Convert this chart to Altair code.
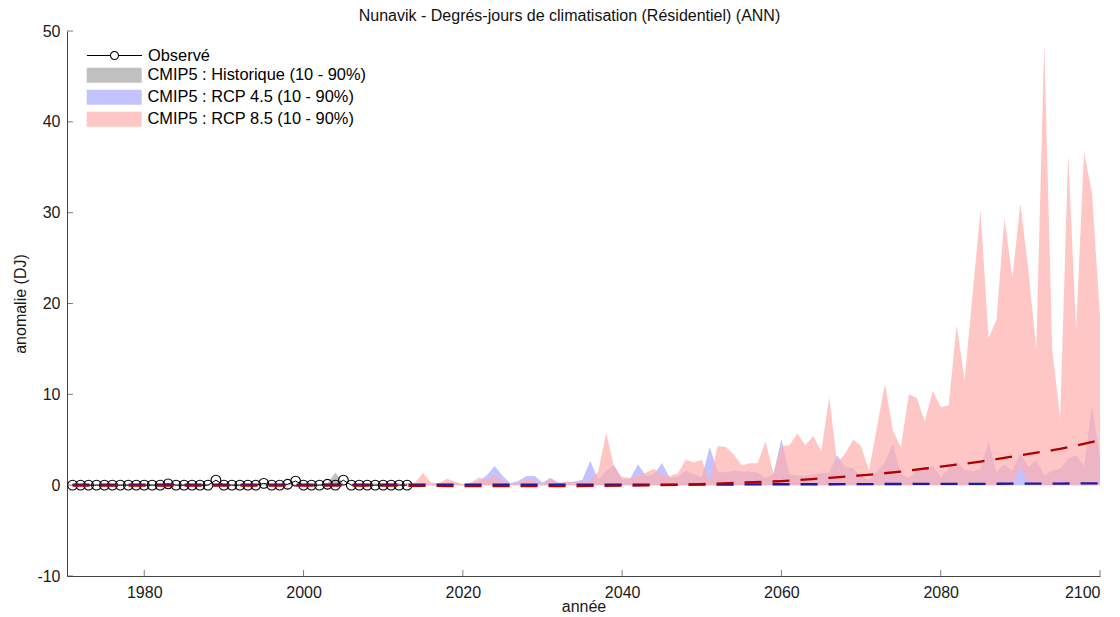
import altair as alt
import pandas as pd

# ---------------- data ----------------
obs_years = list(range(1971, 2014))
obs_values = [
    0.0, 0.0, 0.0, 0.0, 0.0, 0.0, 0.0, 0.0, 0.0, 0.0,      # 1971-1980
    0.0, 0.0, 0.15, 0.0, 0.0, 0.0, 0.0, 0.0, 0.55, 0.0,    # 1981-1990
    0.0, 0.0, 0.0, 0.0, 0.2, 0.0, 0.0, 0.1, 0.45, 0.0,     # 1991-2000
    0.0, 0.0, 0.1, 0.0, 0.55, 0.0, 0.0, 0.0, 0.0, 0.0,     # 2001-2010
    0.0, 0.0, 0.0,                                         # 2011-2013
]

hist_years = list(range(1971, 2006))
hist_low = [
    -0.05, -0.05, -0.05, -0.05, -0.05, -0.05, -0.05, -0.05, -0.05, -0.05,
    -0.05, -0.05, -0.05, -0.05, -0.05, -0.05, -0.05, -0.05, -0.05, -0.05,
    -0.05, -0.05, -0.05, -0.05, -0.05, -0.05, -0.05, -0.05, -0.05, -0.05,
    -0.05, -0.05, -0.05, -0.05, -0.05,
]
hist_high = [
    0.1, 0.1, 0.1, 0.1, 0.1, 0.1, 0.1, 0.1, 0.1, 0.1,
    0.1, 0.1, 0.1, 0.1, 0.1, 0.1, 0.1, 0.1, 0.1, 0.1,
    0.1, 0.1, 0.1, 0.1, 0.1, 0.1, 0.1, 0.1, 0.1, 0.1,
    0.1, 0.1, 0.2, 1.4, 0.1,
]

rcp_years = list(range(2006, 2101))
rcp45_low = [
    0.0, 0.0, 0.0, 0.0, 0.0, 0.0, 0.0, 0.0, 0.0, 0.0,
    0.0, 0.0, 0.0, 0.0, 0.0, 0.0, 0.0, 0.0, 0.0, 0.0,
    0.0, 0.0, 0.0, 0.0, 0.0, 0.0, 0.0, 0.0, 0.0, 0.0,
    0.0, 0.0, 0.0, 0.0, 0.0, 0.0, 0.0, 0.0, 0.0, 0.0,
    0.0, 0.0, 0.0, 0.0, 0.0, 0.0, 0.0, 0.0, 0.0, 0.0,
    0.0, 0.0, 0.0, 0.0, 0.0, 0.0, 0.0, 0.0, 0.0, 0.0,
    0.0, 0.0, 0.0, 0.0, 0.0, 0.0, 0.0, 0.0, 0.0, 0.0,
    0.0, 0.0, 0.0, 0.0, 0.0, 0.0, 0.0, 0.0, 0.0, 0.0,
    0.0, 0.0, 0.0, 0.0, 0.0, 0.0, 0.0, 0.0, 0.0, 0.0,
    0.0, 0.0, 0.0, 0.0, 0.0,
]
rcp45_high = [
    0.1, 0.1, 0.1, 0.2, 0.1, 0.2, 0.1, 0.2, 0.1, 0.2,      # 2006-2015
    0.1, 0.2, 0.3, 0.2, 0.1, 0.2, 0.4, 1.1, 2.1, 1.0,      # 2016-2025
    0.2, 0.5, 1.0, 1.0, 0.3, 0.8, 0.3, 0.3, 0.4, 0.6,      # 2026-2035
    2.7, 0.6, 1.6, 2.2, 0.6, 0.7, 2.3, 1.0, 1.2, 2.45,     # 2036-2045
    0.8, 0.9, 1.6, 1.2, 0.9, 4.2, 1.5, 1.4, 1.6, 1.5,      # 2046-2055
    1.5, 1.4, 0.8, 1.2, 5.1, 1.2, 1.1, 1.0, 1.2, 1.3,      # 2056-2065
    1.4, 3.3, 2.0, 1.9, 1.0, 0.6, 1.5, 2.5, 4.6, 1.2,      # 2066-2075
    0.8, 1.5, 1.6, 2.2, 0.9, 1.8, 2.6, 1.7, 1.5, 1.8,      # 2076-2085
    4.8, 1.5, 2.3, 1.6, 3.5, 2.0, 2.75, 1.1, 1.6, 1.8,     # 2086-2095
    2.9, 3.3, 2.1, 8.8, 3.0,                               # 2096-2100
]
rcp85_low = [
    0.0, 0.0, 0.0, 0.0, 0.0, 0.0, 0.0, 0.0, 0.0, 0.0,
    0.0, 0.0, 0.0, 0.0, 0.0, 0.0, 0.0, 0.0, 0.0, 0.0,
    0.0, 0.0, 0.0, 0.0, 0.0, 0.0, 0.0, 0.0, 0.0, 0.0,
    0.0, 0.0, 0.0, 0.0, 0.0, 0.0, 0.0, 0.0, 0.0, 0.0,
    0.0, 0.0, 0.0, 0.0, 0.0, 0.0, 0.0, 0.0, 0.0, 0.0,
    0.0, 0.0, 0.0, 0.0, 0.0, 0.0, 0.0, 0.0, 0.0, 0.0,
    0.0, 0.0, 0.0, 0.0, 0.0, 0.0, 0.0, 0.0, 0.0, 0.0,
    0.0, 0.0, 0.0, 0.0, 0.0, 0.0, 0.0, 0.0, 0.0, 0.0,
    0.0, 0.0, 0.0, 0.0, 2.0, 0.0, 0.0, 0.0, 0.0, 0.0,
    0.0, 0.0, 0.0, 0.0, 0.0,
]
rcp85_high = [
    0.1, 0.1, 0.2, 0.1, 0.2, 0.2, 0.3, 0.2, 0.3, 1.35,    # 2006-2015
    0.3, 0.2, 0.7, 0.4, 0.1, 0.3, 0.85, 0.6, 1.1, 0.5,    # 2016-2025
    0.1, 0.3, 0.7, 0.5, 0.1, 0.8, 0.2, 0.4, 0.3, 0.4,     # 2026-2035
    0.5, 1.5, 5.8, 2.0, 0.9, 0.8, 1.0, 1.4, 1.8, 1.1,     # 2036-2045
    1.0, 1.3, 2.8, 2.5, 2.8, 0.4, 4.3, 4.2, 3.4, 2.2,     # 2046-2055
    2.4, 2.4, 4.8, 1.3, 4.3, 4.4, 5.7, 4.4, 5.4, 3.7,     # 2056-2065
    9.7, 2.4, 3.5, 5.0, 4.3, 1.6, 6.4, 11.2, 6.0, 4.2,    # 2066-2075
    10.0, 9.6, 7.0, 10.4, 8.6, 8.8, 17.6, 11.6, 21.0, 30.3,  # 2076-2085
    16.2, 18.2, 29.4, 22.8, 31.0, 23.7, 15.0, 48.6, 14.9, 7.3,  # 2086-2095
    36.5, 17.1, 36.7, 32.1, 18.5,                          # 2096-2100
]

mean_years = [1971, 1980, 1990, 2000, 2010, 2020, 2030, 2040, 2045, 2050,
              2055, 2060, 2065, 2070, 2075, 2080, 2085, 2090, 2095, 2100]
rcp85_mean = [-0.05, -0.05, -0.05, -0.05, -0.05, -0.1, -0.1, -0.05, 0.0, 0.12,
              0.28, 0.45, 0.75, 1.08, 1.5, 2.05, 2.6, 3.3, 4.0, 4.95]
rcp45_mean = [0.05, 0.05, 0.05, 0.05, 0.05, 0.05, 0.05, 0.05, 0.05, 0.05,
              0.08, 0.1, 0.1, 0.12, 0.13, 0.14, 0.15, 0.17, 0.18, 0.2]

band_labels = ["CMIP5 : Historique (10 - 90%)",
               "CMIP5 : RCP 4.5 (10 - 90%)",
               "CMIP5 : RCP 8.5 (10 - 90%)"]
obs_label = "Observé"
x_ticks = [1980, 2000, 2020, 2040, 2060, 2080, 2100]
y_ticks = [-10, 0, 10, 20, 30, 40, 50]
x_range = [1970.3, 2100]
y_range = [-10, 50]

# ---------------- tables ----------------
obs_df = pd.DataFrame({"year": obs_years, "value": obs_values, "series": obs_label})
hist_df = pd.DataFrame({"year": hist_years, "low": hist_low, "high": hist_high, "band": band_labels[0]})
r45_df = pd.DataFrame({"year": rcp_years, "low": rcp45_low, "high": rcp45_high, "band": band_labels[1]})
r85_df = pd.DataFrame({"year": rcp_years, "low": rcp85_low, "high": rcp85_high, "band": band_labels[2]})
m85_df = pd.DataFrame({"year": mean_years, "value": rcp85_mean})
m45_df = pd.DataFrame({"year": mean_years, "value": rcp45_mean})
xt_df = pd.DataFrame({"year": x_ticks})
yt_df = pd.DataFrame({"v": y_ticks})

FONT = "Liberation Sans"
xs = alt.Scale(domain=x_range, nice=False, zero=False)
ys = alt.Scale(domain=y_range, nice=False, zero=False)
fill_scale = alt.Scale(domain=band_labels, range=["#a5a5a5", "#a9a9ff", "#ffaeae"])
stroke_scale = alt.Scale(domain=[obs_label], range=["black"])

rect_path = "M-1,-1H6.333V1H-1Z"
obs_path = ("M-1,0H2.133M3.2,0H6.333M2.133,0A0.533,0.533,0,1,0,3.2,0"
            "A0.533,0.533,0,1,0,2.133,0")

fill_legend = alt.Legend(title=None, orient="none", legendX=19, legendY=36,
                         symbolType=rect_path, symbolSize=225, symbolOpacity=0.7,
                         symbolStrokeWidth=0, labelOffset=45, rowPadding=5,
                         labelFont=FONT, labelFontSize=16.4, labelColor="black",
                         labelLimit=500, padding=0)
obs_legend = alt.Legend(title=None, orient="none", legendX=19, legendY=16,
                        symbolType=obs_path, symbolSize=225, symbolFillColor="white",
                        symbolStrokeWidth=1.1, labelOffset=45,
                        labelFont=FONT, labelFontSize=16.4, labelColor="black",
                        labelLimit=500, padding=0)

x_axis = alt.Axis(values=x_ticks, title="année", ticks=False, grid=False,
                  labelPadding=8, titlePadding=-2, format="d")
y_axis = alt.Axis(values=y_ticks, title="anomalie (DJ)", ticks=False, grid=False,
                  labelPadding=7, titlePadding=8, labelExpr="'' + datum.value")

X = alt.X("year:Q", scale=xs)


def band(df, with_axes=False):
    if with_axes:
        xe = alt.X("year:Q", scale=xs, axis=x_axis)
        ye = alt.Y("low:Q", scale=ys, axis=y_axis)
    else:
        xe = alt.X("year:Q", scale=xs)
        ye = alt.Y("low:Q", scale=ys)
    return alt.Chart(df).mark_area(opacity=0.7).encode(
        x=xe, y=ye, y2="high:Q",
        color=alt.Color("band:N", scale=fill_scale, legend=fill_legend),
    )


hist_layer = band(hist_df, with_axes=True)
r45_layer = band(r45_df)
r85_layer = band(r85_df)

obs_line = alt.Chart(obs_df).mark_line(strokeWidth=1).encode(
    x=X,
    y=alt.Y("value:Q", scale=ys),
    stroke=alt.Stroke("series:N", scale=stroke_scale, legend=obs_legend),
)
obs_pts = alt.Chart(obs_df).mark_point(shape="circle", filled=False, size=95,
                                       strokeWidth=1.1, opacity=1).encode(
    x=X,
    y=alt.Y("value:Q", scale=ys),
    stroke=alt.Stroke("series:N", scale=stroke_scale, legend=obs_legend),
)

m45_line = alt.Chart(m45_df).mark_line(color="#1b1ba8", strokeWidth=2.3,
                                       strokeDash=[17, 11], interpolate="monotone").encode(
    x=X, y=alt.Y("value:Q", scale=ys),
)
m85_line = alt.Chart(m85_df).mark_line(color="#b00000", strokeWidth=2.3,
                                       strokeDash=[17, 11], interpolate="monotone").encode(
    x=X, y=alt.Y("value:Q", scale=ys),
)

x_tick_marks = alt.Chart(xt_df).mark_tick(orient="vertical", size=6, thickness=1,
                                          color="#444444", yOffset=-3).encode(
    x=X,
    y=alt.datum(y_range[0]),
)
y_tick_marks = alt.Chart(yt_df).mark_tick(orient="horizontal", size=6, thickness=1,
                                          color="#444444", xOffset=3).encode(
    y=alt.Y("v:Q", scale=ys),
    x=alt.datum(x_range[0]),
)

chart = alt.layer(
    hist_layer, r45_layer, r85_layer, obs_line, obs_pts, m45_line, m85_line,
    x_tick_marks, y_tick_marks,
).properties(
    width=1033,
    height=545,
    title=alt.TitleParams(
        text="Nunavik - Degrés-jours de climatisation (Résidentiel) (ANN)",
        font=FONT, fontSize=16, fontWeight="normal", color="#111111",
        anchor="middle", frame="group", baseline="alphabetic", offset=4, dx=-14, dy=18,
    ),
    autosize=alt.AutoSizeParams(type="none"),
    padding={"left": 59, "top": 23, "right": 8, "bottom": 37},
).resolve_scale(
    color="shared", stroke="shared"
).configure_view(
    stroke=None
).configure_axis(
    domainColor="#444444", domainWidth=1,
    labelFont=FONT, labelFontSize=16, labelColor="#1a1a1a",
    titleFont=FONT, titleFontSize=16, titleFontWeight="normal", titleColor="#1a1a1a",
)

chart.save("out.html", embed_options={"renderer": "svg", "actions": False})
